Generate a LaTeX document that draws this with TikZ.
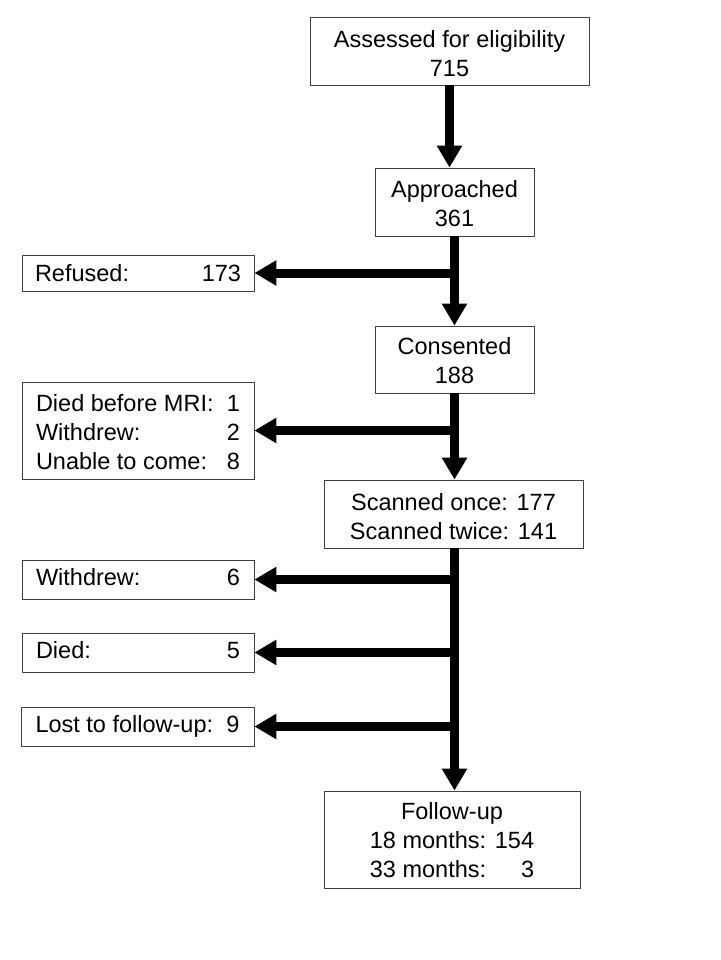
\documentclass[tikz,border=0pt]{standalone}
\usepackage{fontspec}
\setmainfont{Liberation Sans}
\usetikzlibrary{arrows.meta}
\newcommand\topgap[1]{\rule{0pt}{#1}}
\begin{document}
\begin{tikzpicture}[x=1pt,y=-1pt,
  box/.style={draw=black!75, line width=0.8pt, inner sep=0pt, align=center, font=\fontsize{23.5}{29}\selectfont},
  sidebox/.style={box, minimum width=232pt, minimum height=39pt},
  flow/.style={line width=9pt, -{Triangle[width=24pt,length=22pt]}}]
\useasboundingbox[fill=white] (0,0) rectangle (720,960);
\node[box, minimum width=279pt, minimum height=68pt] (ass) at (449.5,51) {\topgap{22pt}Assessed for eligibility\\715};
\node[box, minimum width=159pt, minimum height=68pt] (appr) at (454.5,202) {\topgap{20pt}Approached\\361};
\node[sidebox, minimum height=36pt] (ref) at (138,273) {\makebox[206pt]{Refused:\hfill 173}};
\node[box, minimum width=159pt, minimum height=67pt] (cons) at (454.5,359.5) {\topgap{20pt}Consented\\188};
\node[sidebox, minimum height=97pt] (excl) at (138,430.5) {\begin{tabular}{@{}l@{}}\topgap{28pt}\makebox[204pt]{Died before MRI:\hfill 1}\\\makebox[204pt]{Withdrew:\hfill 2}\\\makebox[204pt]{Unable to come:\hfill 8}\end{tabular}};
\node[box, minimum width=259pt, minimum height=68pt] (scan) at (453.5,514) {\topgap{22pt}Scanned once: 177\\Scanned twice: 141};
\node[sidebox] (wd) at (138,579.5) {\makebox[204pt]{Withdrew:\hfill 6}\vphantom{p}};
\node[sidebox] (died) at (138,652.5) {\makebox[204pt]{Died:\hfill 5}\vphantom{p}};
\node[sidebox, minimum width=233pt] (lost) at (137.5,726.5) {\makebox[204pt]{Lost to follow-up:\hfill 9}};
\node[box, minimum width=256pt, minimum height=97pt] (fu) at (452,839.5) {\begin{tabular}{@{}l@{ }r@{}}\multicolumn{2}{@{}c@{}}{\topgap{27pt}Follow-up}\\18 months:&154\\33 months:&3\end{tabular}};
\draw[flow] (ass.south) -- (ass.south |- appr.north);
\draw[flow] (appr.south) -- (cons.north);
\draw[flow] (appr.south |- ref.east) -- (ref.east);
\draw[flow] (cons.south) -- (cons.south |- scan.north);
\draw[flow] (cons.south |- excl.east) -- (excl.east);
\draw[flow] (cons.south |- scan.south) -- (cons.south |- fu.north);
\draw[flow] (cons.south |- wd.east) -- (wd.east);
\draw[flow] (cons.south |- died.east) -- (died.east);
\draw[flow] (cons.south |- lost.east) -- (lost.east);
\end{tikzpicture}
\end{document}
